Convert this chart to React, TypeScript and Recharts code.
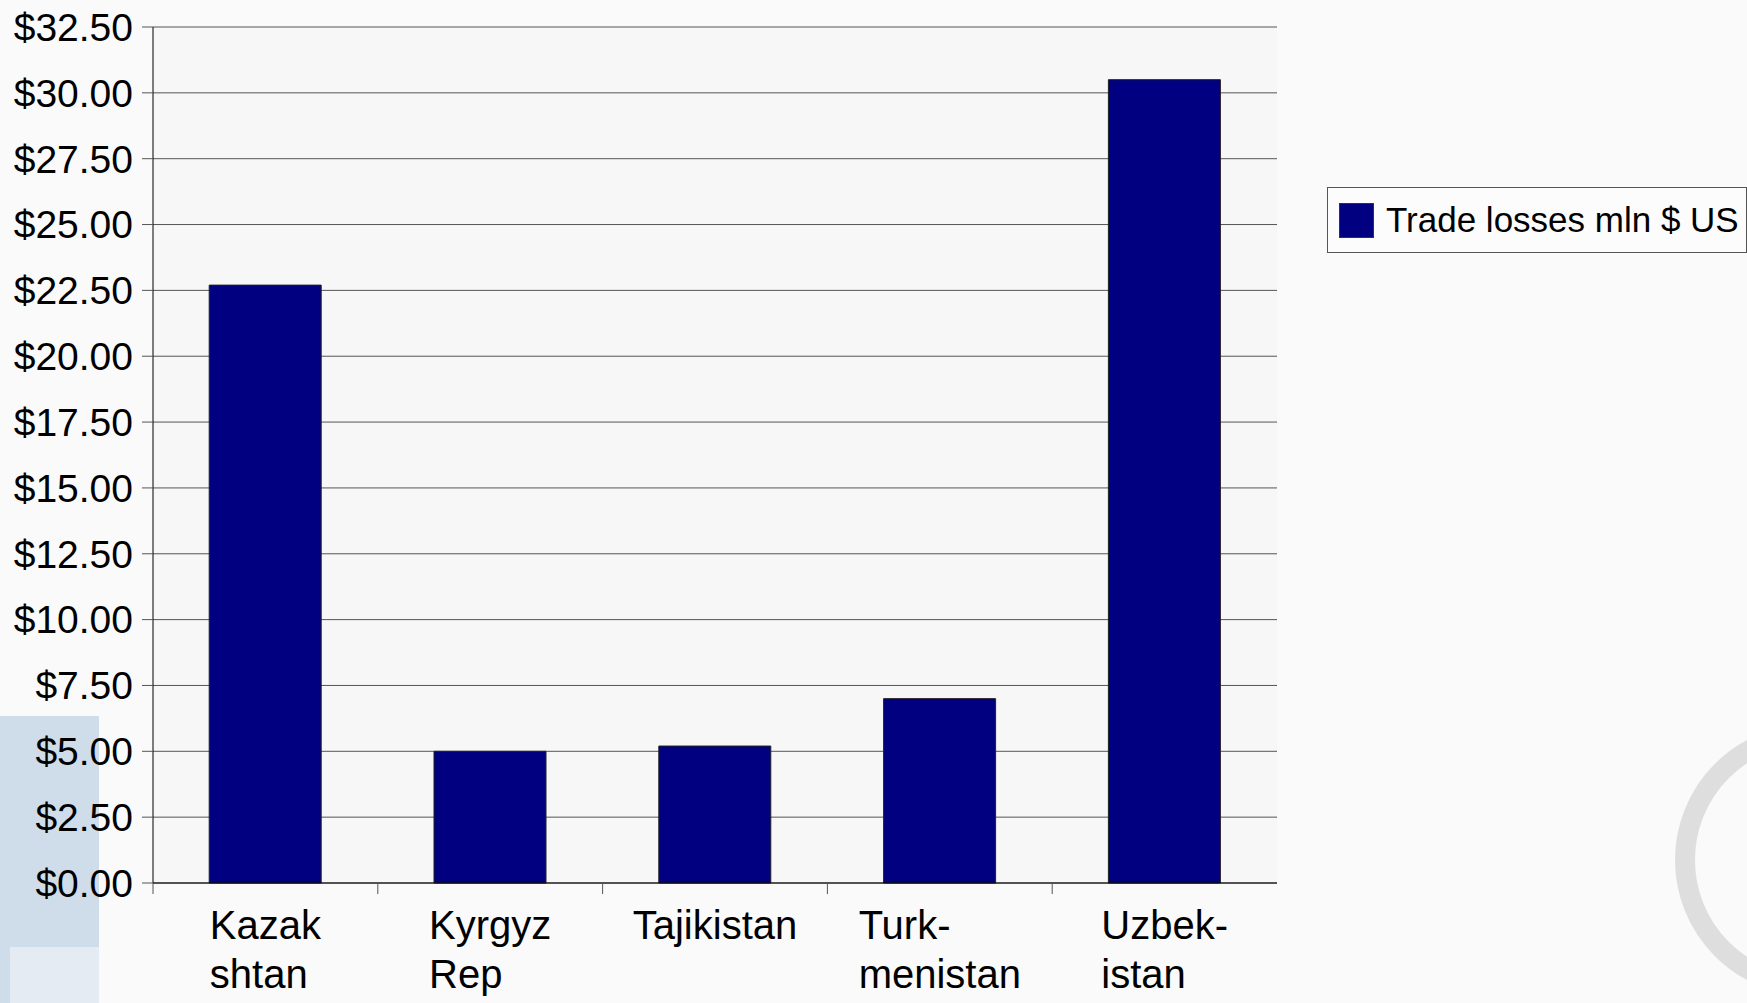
import { BarChart, Bar, XAxis, YAxis, CartesianGrid, Legend } from "recharts";

// Trade losses by country (mln $ US)
const CATEGORIES = ["Kazak\nshtan", "Kyrgyz\nRep", "Tajikistan", "Turk-\nmenistan", "Uzbek-\nistan"];
const TRADE_LOSSES = [22.7, 5.0, 5.2, 7.0, 30.5];
const Y_TICKS = [0, 2.5, 5, 7.5, 10, 12.5, 15, 17.5, 20, 22.5, 25, 27.5, 30, 32.5];
const SERIES_NAME = "Trade losses mln $ US";

const FONT = '"Liberation Sans", Arial, sans-serif';
const W = 1747;
const H = 1003;
const MARGIN = { top: 27, right: 470, bottom: 0, left: 0 };
const Y_AXIS_W = 153;
const X_AXIS_H = 120;
const PLOT_W = W - MARGIN.left - MARGIN.right - Y_AXIS_W;
const HALF_BAND = PLOT_W / CATEGORIES.length / 2;
const CAT_FONT = 40;

const data = CATEGORIES.map((name, i) => ({ name, value: TRADE_LOSSES[i] }));

let measureCtx: CanvasRenderingContext2D | null = null;
function textWidth(s: string, size: number) {
  if (!measureCtx) measureCtx = document.createElement("canvas").getContext("2d");
  if (!measureCtx) return s.length * size * 0.55;
  measureCtx.font = `${size}px "Liberation Sans", Arial, sans-serif`;
  return measureCtx.measureText(s).width;
}

function CategoryTick(props: any) {
  const { x, y, payload } = props;
  const lines = String(payload.value).split("\n");
  const blockW = Math.max(...lines.map((l) => textWidth(l, CAT_FONT)));
  const left = x - blockW / 2;
  const tickX = x - HALF_BAND;
  return (
    <g>
      <line x1={tickX} y1={y} x2={tickX} y2={y + 11} stroke="#555" strokeWidth={1} />
      <text x={left} y={y + 56} textAnchor="start" fontSize={CAT_FONT} fontFamily={FONT} fill="#000">
        {lines.map((l, i) => (
          <tspan key={i} x={left} y={y + 56 + i * 49}>
            {l}
          </tspan>
        ))}
      </text>
    </g>
  );
}

function LegendBox({ payload }: any) {
  const item = payload?.[0];
  return (
    <div
      style={{
        boxSizing: "border-box",
        width: 420,
        height: 66,
        border: "1px solid #555",
        background: "#fcfcfc",
        display: "flex",
        alignItems: "center",
        fontFamily: FONT,
        fontSize: 35,
        color: "#000",
      }}
    >
      <span
        style={{
          display: "inline-block",
          boxSizing: "border-box",
          width: 35,
          height: 35,
          marginLeft: 11,
          marginRight: 12,
          background: item?.color ?? "#000080",
          border: "1px solid #333",
        }}
      />
      <span style={{ whiteSpace: "nowrap" }}>{item?.value ?? SERIES_NAME}</span>
    </div>
  );
}

export default function App() {
  return (
    <div style={{ position: "absolute", top: 0, left: 0, width: W, height: H, background: "#fafafa", overflow: "hidden" }}>
      {/* slide background decorations */}
      <div style={{ position: "absolute", left: 0, top: 716, width: 99, height: 287, background: "#cfdcea" }} />
      <div style={{ position: "absolute", left: 10, top: 947, width: 89, height: 56, background: "#e4ebf3" }} />
      <div
        style={{
          position: "absolute",
          left: 1675,
          top: 724,
          width: 272,
          height: 272,
          boxSizing: "border-box",
          borderRadius: "50%",
          border: "20px solid #dedede",
        }}
      />
      <div style={{ position: "absolute", top: 0, left: 0 }}>
        <BarChart width={W} height={H} data={data} margin={MARGIN} barCategoryGap="25%">
          <CartesianGrid vertical={false} stroke="#555" fill="#f7f7f7" fillOpacity={1} />
          <XAxis
            dataKey="name"
            interval={0}
            height={X_AXIS_H}
            tickLine={false}
            tickSize={0}
            tickMargin={0}
            axisLine={{ stroke: "#000", strokeWidth: 1 }}
            tick={<CategoryTick />}
          />
          <YAxis
            type="number"
            domain={[0, 32.5]}
            ticks={Y_TICKS}
            interval={0}
            width={Y_AXIS_W}
            tickSize={11}
            tickMargin={9}
            tickLine={{ stroke: "#555" }}
            axisLine={{ stroke: "#000", strokeWidth: 1 }}
            tick={{ fill: "#000", fontSize: 39, fontFamily: FONT }}
            tickFormatter={(v: number) => `$${v.toFixed(2)}`}
          />
          <Legend
            layout="vertical"
            align="center"
            verticalAlign="middle"
            wrapperStyle={{ left: 1327, top: 187, width: 420, height: 66 }}
            content={<LegendBox />}
          />
          <Bar
            dataKey="value"
            name={SERIES_NAME}
            fill="#000080"
            stroke="#222"
            strokeWidth={1}
            isAnimationActive={false}
          />
        </BarChart>
      </div>
    </div>
  );
}
